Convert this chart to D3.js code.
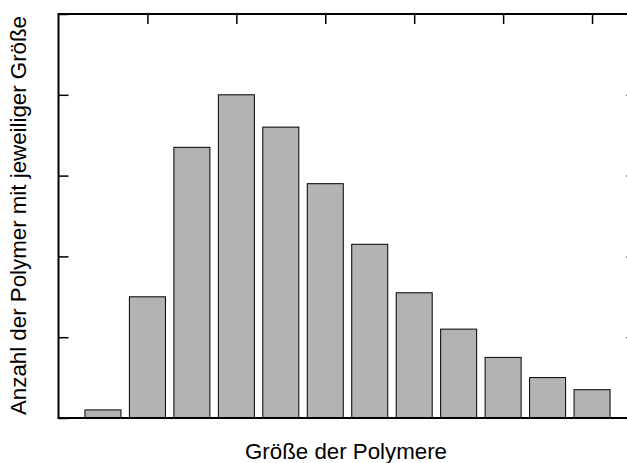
<!DOCTYPE html>
<html>
<head>
<meta charset="utf-8">
<script src="https://cdn.jsdelivr.net/npm/d3@7"></script>
<style>
body { margin: 0; background: #fff; }
text { font-family: "Liberation Sans", Arial, sans-serif; }
</style>
</head>
<body>
<script>
// polymer sizes and counts
var sizes = [1,2,3,4,5,6,7,8,9,10,11,12];
var counts = [2,30,67,80,72,58,43,31,22,15,10,7];
var xTicks = [2,4,6,8,10,12];
var yTicks = [0,20,40,60,80,100];

var width = 627, height = 463;
var plotL = 58.5, plotT = 14, plotR = 636.5, plotB = 418;

var svg = d3.select("body").append("svg")
	.attr("width", width)
	.attr("height", height);

var x = d3.scaleLinear().domain([0, 13]).range([plotL, plotR]);
var y = d3.scaleLinear().domain([0, 100]).range([plotB, plotT]);
var barW = (x(1) - x(0)) * 0.81;

// ticks on all four sides, pointing inward
svg.append("g").attr("transform", "translate(0," + plotT + ")")
	.call(d3.axisBottom(x).tickValues(xTicks).tickSize(10).tickFormat(""));
svg.append("g").attr("transform", "translate(0," + plotB + ")")
	.call(d3.axisTop(x).tickValues(xTicks).tickSize(10).tickFormat(""));
svg.append("g").attr("transform", "translate(" + plotL + ",0)")
	.call(d3.axisRight(y).tickValues(yTicks).tickSize(10).tickFormat(""));
svg.append("g").attr("transform", "translate(" + plotR + ",0)")
	.call(d3.axisLeft(y).tickValues(yTicks).tickSize(10).tickFormat(""));
svg.selectAll(".domain").remove();
svg.selectAll(".tick line").attr("stroke", "#000").attr("stroke-width", 1.5);

svg.selectAll("rect.bar")
	.data(sizes)
	.enter()
	.append("rect")
	.attr("class", "bar")
	.attr("x", function(d){ return x(d) - barW/2; })
	.attr("y", function(d, i){ return y(counts[i]); })
	.attr("width", barW)
	.attr("height", function(d, i){ return y(0) - y(counts[i]); })
	.attr("fill", "#b3b3b3")
	.attr("stroke", "#000")
	.attr("stroke-width", 1);

// frame
svg.append("rect")
	.attr("x", plotL).attr("y", plotT)
	.attr("width", plotR - plotL).attr("height", plotB - plotT)
	.attr("fill", "none")
	.attr("stroke", "#000")
	.attr("stroke-width", 2);

svg.append("text")
	.attr("x", 346)
	.attr("y", 459)
	.attr("text-anchor", "middle")
	.attr("font-size", 22.3)
	.text("Größe der Polymere");

svg.append("text")
	.attr("transform", "translate(26,215.5) rotate(-90)")
	.attr("text-anchor", "middle")
	.attr("font-size", 22.3)
	.text("Anzahl der Polymer mit jeweiliger Größe");
</script>
</body>
</html>
